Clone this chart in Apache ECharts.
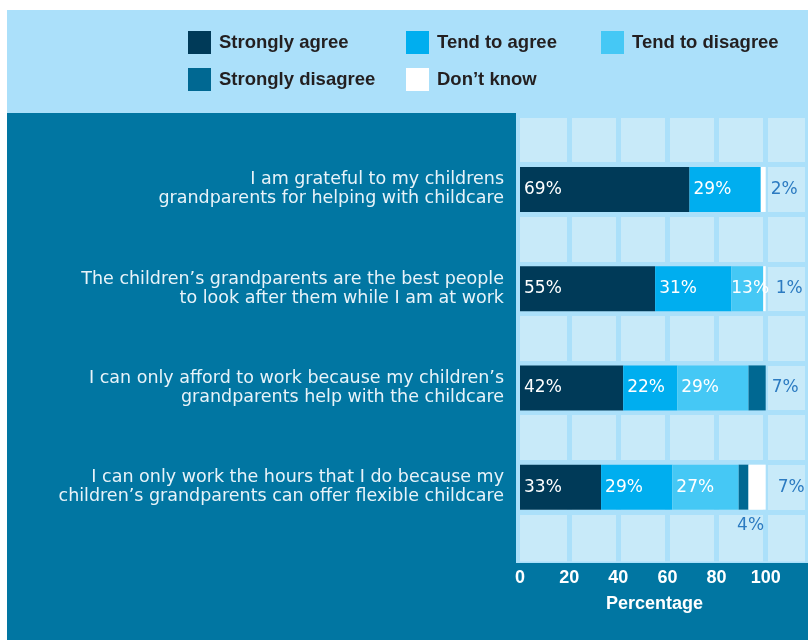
<!DOCTYPE html>
<html>
<head>
<meta charset="utf-8">
<script src="https://cdn.jsdelivr.net/npm/echarts@6/dist/echarts.min.js"></script>
<style>
  html, body { margin: 0; padding: 0; background: #ffffff; }
  #chart { width: 808px; height: 640px; }
</style>
</head>
<body>
<div id="chart"></div>
<script>
// Survey statements (one bar each), top to bottom
const statements = [
  'I am grateful to my childrens\ngrandparents for helping with childcare',
  'The children\u2019s grandparents are the best people\nto look after them while I am at work',
  'I can only afford to work because my children\u2019s\ngrandparents help with the childcare',
  'I can only work the hours that I do because my\nchildren\u2019s grandparents can offer flexible childcare'
];

// Response categories
const responseNames = ['Strongly agree', 'Tend to agree', 'Tend to disagree', 'Strongly disagree', 'Don\u2019t know'];

// Share of respondents (%) per statement
const stronglyAgree    = [69, 55, 42, 33];
const tendToAgree      = [29, 31, 22, 29];
const tendToDisagree   = [0, 13, 29, 27];
const stronglyDisagree = [0, 0, 7, 4];
const dontKnow         = [2, 1, 0, 7];

// Axis ticks
const xTicks = [0, 20, 40, 60, 80, 100];

const responseValues = [stronglyAgree, tendToAgree, tendToDisagree, stronglyDisagree, dontKnow];
const responseColors = ['#003a58', '#00aeef', '#45c8f5', '#006892', '#ffffff'];

// Small segments get their value printed outside the bar
const outsideLabels = {
  '4-0': { position: 'right', distance: 5 },
  '4-1': { position: 'right', distance: 10 },
  '3-2': { position: 'right', distance: 6 },
  '3-3': { position: 'bottom', distance: 7, offset: [7, 0] },
  '4-3': { position: 'right', distance: 12 }
};
const tightLabels = { '2-1': { distance: 0 } };

// Category slots: a blank row of cells between every bar
const slots = [''];
statements.forEach(s => { slots.push(s); slots.push(''); });

const series = responseValues.map((vals, si) => ({
  name: responseNames[si],
  type: 'bar',
  stack: 'total',
  barWidth: 45,
  itemStyle: { color: responseColors[si] },
  label: {
    show: true,
    position: 'insideLeft',
    distance: 4,
    color: '#ffffff',
    fontFamily: 'DejaVu Sans',
    fontSize: 17,
    formatter: p => (p.value ? p.value + '%' : '')
  },
  data: slots.map((s, k) => {
    if (k % 2 === 0) return null;
    const i = (k - 1) / 2;
    const key = si + '-' + i;
    const item = { value: vals[i] };
    if (outsideLabels[key]) {
      item.label = Object.assign({ color: '#2c7bc1' }, outsideLabels[key]);
    } else if (tightLabels[key]) {
      item.label = tightLabels[key];
    }
    return item;
  })
}));

const legendText = {
  color: '#231f20',
  fontFamily: 'Liberation Sans',
  fontWeight: 'bold',
  fontSize: 18.5,
  padding: [0, 0, 0, 3]
};
function legendColumn(left, names) {
  return {
    orient: 'vertical',
    left: left,
    top: 31,
    padding: 0,
    itemWidth: 23,
    itemHeight: 23,
    itemGap: 14,
    icon: 'rect',
    selectedMode: false,
    textStyle: legendText,
    data: names
  };
}

const chart = echarts.init(document.getElementById('chart'), null, { renderer: 'canvas' });
chart.setOption({
  backgroundColor: '#ffffff',
  animation: false,
  graphic: [
    { type: 'rect', z: -10, shape: { x: 7, y: 10, width: 801, height: 103 }, style: { fill: '#abe0fa' } },
    { type: 'rect', z: -10, shape: { x: 7, y: 113, width: 801, height: 527 }, style: { fill: '#0176a2' } },
    { type: 'rect', z: -9, shape: { x: 516, y: 113, width: 292, height: 450 }, style: { fill: '#abe0fa' } }
  ],
  legend: [
    legendColumn(188, [responseNames[0], responseNames[3]]),
    legendColumn(406, [responseNames[1], responseNames[4]]),
    legendColumn(601, [responseNames[2]])
  ],
  grid: {
    show: true,
    left: 520,
    top: 115,
    right: 0,
    height: 446.6,
    backgroundColor: '#c8eaf9',
    borderWidth: 0,
    containLabel: false
  },
  xAxis: {
    type: 'value',
    min: 0,
    max: 116,
    interval: 20,
    axisLine: { show: false },
    axisTick: { show: false },
    axisLabel: {
      margin: 7,
      color: '#ffffff',
      fontFamily: 'Liberation Sans',
      fontWeight: 'bold',
      fontSize: 18,
      formatter: v => (xTicks.indexOf(v) >= 0 ? String(v) : '')
    },
    splitLine: { show: true, showMinLine: false, showMaxLine: false, lineStyle: { color: '#abe0fa', width: 5 } },
    name: 'Percentage',
    nameLocation: 'middle',
    nameGap: 33,
    nameTextStyle: {
      color: '#ffffff',
      fontFamily: 'Liberation Sans',
      fontWeight: 'bold',
      fontSize: 18,
      padding: [0, 16, 0, 0]
    }
  },
  yAxis: {
    type: 'category',
    inverse: true,
    data: slots,
    axisLine: { show: false },
    axisTick: { show: false },
    axisLabel: {
      interval: 0,
      margin: 16,
      color: '#e8f3f9',
      fontFamily: 'DejaVu Sans',
      fontSize: 17.5,
      lineHeight: 19
    },
    splitLine: { show: true, showMaxLine: false, lineStyle: { color: '#abe0fa', width: 5 } }
  },
  series: series
});
</script>
</body>
</html>
